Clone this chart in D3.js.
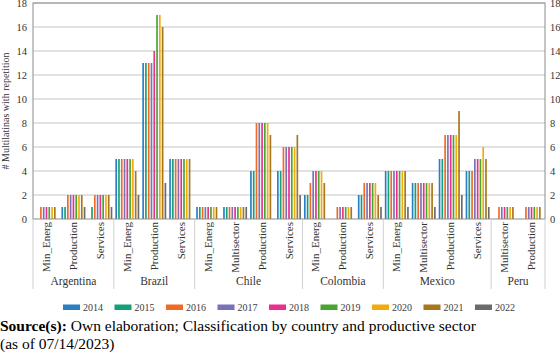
<!DOCTYPE html>
<html>
<head>
<meta charset="utf-8">
<script src="https://cdn.jsdelivr.net/npm/d3@7"></script>
<style>
	body { margin: 0; background: #fff; }
	svg { display: block; }
	text { font-family: 'Liberation Serif', 'Times New Roman', 'DejaVu Serif', serif; }
</style>
</head>
<body>
<svg id="chart"></svg>
<script>
// categories: country + sector
const countries = ['Argentina', 'Argentina', 'Argentina', 'Brazil', 'Brazil', 'Brazil',
	'Chile', 'Chile', 'Chile', 'Chile', 'Colombia', 'Colombia', 'Colombia',
	'Mexico', 'Mexico', 'Mexico', 'Mexico', 'Peru', 'Peru']
const sectors = ['Min_Energ', 'Production', 'Services', 'Min_Energ', 'Production', 'Services',
	'Min_Energ', 'Multisector', 'Production', 'Services', 'Min_Energ', 'Production', 'Services',
	'Min_Energ', 'Multisector', 'Production', 'Services', 'Multisector', 'Production']
const years = ['2014', '2015', '2016', '2017', '2018', '2019', '2020', '2021', '2022']

// number of multilatinas per year, one value per category
const v2014 = [0, 1, 0, 5, 13, 5, 1, 1, 4, 4, 2, 0, 2, 4, 3, 5, 4, 0, 0]
const v2015 = [0, 1, 1, 5, 13, 5, 1, 1, 4, 4, 2, 0, 2, 4, 3, 5, 4, 0, 0]
const v2016 = [1, 2, 2, 5, 13, 5, 1, 1, 8, 6, 3, 1, 3, 4, 3, 7, 4, 1, 1]
const v2017 = [1, 2, 2, 5, 13, 5, 1, 1, 8, 6, 4, 1, 3, 4, 3, 7, 5, 1, 1]
const v2018 = [1, 2, 2, 5, 14, 5, 1, 1, 8, 6, 4, 1, 3, 4, 3, 7, 5, 1, 1]
const v2019 = [1, 2, 2, 5, 17, 5, 1, 1, 8, 6, 4, 1, 3, 4, 3, 7, 5, 1, 1]
const v2020 = [1, 2, 2, 5, 17, 5, 1, 1, 8, 6, 4, 1, 3, 4, 3, 7, 6, 1, 1]
const v2021 = [1, 2, 2, 4, 16, 5, 1, 1, 7, 7, 3, 1, 2, 4, 3, 9, 5, 1, 1]
const v2022 = [0, 1, 1, 2, 3, 0, 0, 1, 0, 2, 0, 0, 1, 1, 1, 2, 1, 0, 0]
const yTicks = [0, 2, 4, 6, 8, 10, 12, 14, 16, 18]

const series = [v2014, v2015, v2016, v2017, v2018, v2019, v2020, v2021, v2022]
const colors = ['#2a7fc0', '#14a07c', '#f06a26', '#7a72b8', '#e8308c', '#4aa52e', '#f2ab0c', '#a8761e', '#6b6b6b']

const width = 560, height = 355
const plotLeft = 33, plotRight = 545, plotTop = 3, plotBottom = 219

const svg = d3.select('#chart')
	.attr('width', width)
	.attr('height', height)

const keys = sectors.map((s, i) => i)

const x = d3.scaleBand()
	.domain(keys)
	.range([plotLeft, plotRight])

const x1 = d3.scaleBand()
	.domain(years)
	.range([1.5, x.bandwidth() - 1.5])
	.paddingInner(0.4)

const y = d3.scaleLinear()
	.domain([0, 18])
	.range([plotBottom, plotTop])

const color = d3.scaleOrdinal().domain(years).range(colors)

// gridlines
svg.append('g')
	.selectAll('line')
	.data(yTicks.slice(1))
	.join('line')
	.attr('x1', plotLeft).attr('x2', plotRight)
	.attr('y1', d => y(d)).attr('y2', d => y(d))
	.attr('stroke', '#d9d9d9')
	.attr('stroke-width', 1.3)

// bars
const rows = []
keys.forEach(k => {
	years.forEach((yr, j) => {
		if (series[j][k] > 0) rows.push({ k: k, year: yr, value: series[j][k] })
	})
})

svg.append('g')
	.selectAll('rect')
	.data(rows)
	.join('rect')
	.attr('x', d => x(d.k) + x1(d.year))
	.attr('width', x1.bandwidth())
	.attr('y', d => y(d.value))
	.attr('height', d => y(0) - y(d.value))
	.attr('fill', d => color(d.year))

// frame
svg.append('rect')
	.attr('x', plotLeft).attr('y', plotTop)
	.attr('width', plotRight - plotLeft).attr('height', plotBottom - plotTop)
	.attr('fill', 'none')
	.attr('stroke', '#8c8c8c')
	.attr('stroke-width', 1)

// y axes (left and right)
const yLeft = svg.append('g')
	.attr('transform', `translate(${plotLeft},0)`)
	.call(d3.axisLeft(y).tickValues(yTicks).tickSize(0).tickPadding(6))
const yRight = svg.append('g')
	.attr('transform', `translate(${plotRight},0)`)
	.call(d3.axisRight(y).tickValues(yTicks).tickSize(0).tickPadding(5))
;[yLeft, yRight].forEach(g => {
	g.attr('font-family', null).attr('font-size', null)
	g.select('.domain').remove()
	g.selectAll('text')
		.style('font-size', '10.5px')
		.attr('fill', '#333')
})

// y axis title
svg.append('text')
	.attr('transform', `translate(9,${(plotTop + plotBottom) / 2}) rotate(-90)`)
	.attr('text-anchor', 'middle')
	.style('font-size', '10px')
	.attr('fill', '#333')
	.text('# Multilatinas with repetition')

// sector labels
svg.append('g')
	.selectAll('text')
	.data(keys)
	.join('text')
	.attr('transform', d => `translate(${x(d) + x.bandwidth() / 2 + 3.5},${plotBottom + 3}) rotate(-90)`)
	.attr('text-anchor', 'end')
	.style('font-size', '11px')
	.attr('fill', '#333')
	.text(d => sectors[d])

// country groups
const groups = d3.groups(keys, d => countries[d])
const sep = svg.append('g')
groups.forEach(([name, ks]) => {
	const x0 = x(ks[0]), xe = x(ks[ks.length - 1]) + x.bandwidth()
	sep.append('text')
		.attr('x', (x0 + xe) / 2)
		.attr('y', 285)
		.attr('text-anchor', 'middle')
		.style('font-size', '11.5px')
		.attr('fill', '#333')
		.text(name)
})
const edges = groups.map(([n, ks]) => x(ks[0])).concat([plotRight])
sep.selectAll('line')
	.data(edges)
	.join('line')
	.attr('x1', d => d).attr('x2', d => d)
	.attr('y1', plotBottom).attr('y2', 289)
	.attr('stroke', '#d0d0d0')
	.attr('stroke-width', 1)

// legend
const legend = svg.append('g')
	.selectAll('g')
	.data(years)
	.join('g')
	.attr('transform', (d, i) => `translate(${63 + i * 51.5},307)`)
legend.append('rect')
	.attr('x', 0).attr('y', -2.5)
	.attr('width', 17).attr('height', 5.5)
	.attr('fill', d => color(d))
legend.append('text')
	.attr('x', 20).attr('y', 3.5)
	.style('font-size', '10px')
	.attr('fill', '#404040')
	.text(d => d)

// source note
const note = svg.append('text')
	.attr('x', 0).attr('y', 331)
	.style('font-size', '15.5px')
	.attr('fill', '#000')
note.append('tspan').style('font-weight', 'bold').text('Source(s):')
note.append('tspan').text(' Own elaboration; Classification by country and productive sector')
svg.append('text')
	.attr('x', 0).attr('y', 349)
	.style('font-size', '15.5px')
	.attr('fill', '#000')
	.text('(as of 07/14/2023)')
</script>
</body>
</html>
